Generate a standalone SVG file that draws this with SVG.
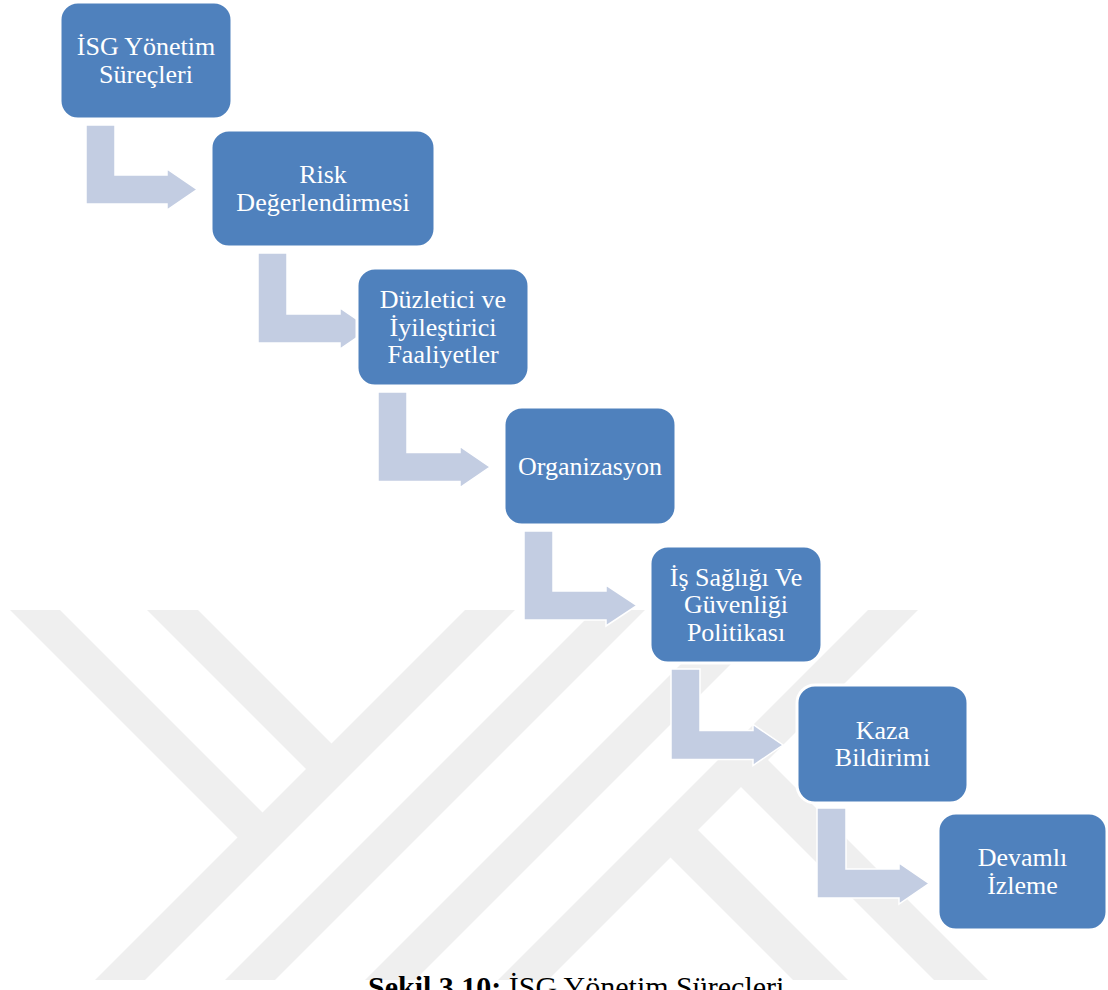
<svg xmlns="http://www.w3.org/2000/svg" width="1108" height="990" viewBox="0 0 1108 990">
  <style>
    .wm { fill: #efefef; }
    .arr { fill: #c3cde2; stroke: #ffffff; stroke-width: 1.5; stroke-linejoin: miter; }
    .box { fill: #4f81bd; stroke: #ffffff; stroke-width: 3; }
    .lbl { font-family: "Liberation Serif", "Times New Roman", serif; font-size: 26px; fill: #ffffff; text-anchor: middle; }
    .cap { font-family: "Liberation Serif", "Times New Roman", serif; font-size: 30px; fill: #000000; }
  </style>
  <rect x="0" y="0" width="1108" height="990" fill="#ffffff"/>

  <g id="watermark">
    <polygon class="wm" points="10,610 60,610 275,825 250,850"/>
    <polygon class="wm" points="147,610 198,610 344,756 318.5,781.5"/>
    <polygon class="wm" points="465,610 515,610 145,980 95,980"/>
    <polygon class="wm" points="595,610 645,610 275,980 225,980"/>
    <polygon class="wm" points="735,610 785,610 415,980 365,980"/>
    <polygon class="wm" points="868,610 918,610 548,980 498,980"/>
    <polygon class="wm" points="685.5,817.5 848,980 793,980 658,845"/>
    <polygon class="wm" points="755.5,747.5 988,980 934,980 728.5,774.5"/>
  </g>

  <g id="connectors">
    <polygon class="arr" points="86,125 115,125 115,175 167,175 167,169 197,189.5 167,210 167,204 86,204"/>
    <polygon class="arr" points="258,253 287,253 287,314 340,314 340,308 370,328.5 340,349 340,343 258,343"/>
    <polygon class="arr" points="378,392 407,392 407,452.5 460,452.5 460,446.5 490,467 460,487.5 460,481.5 378,481.5"/>
    <polygon class="arr" points="524,531 553,531 553,591 606,591 606,585 637,605.5 606,626 606,620 524,620"/>
    <polygon class="arr" points="671,669 700,669 700,730.5 753,730.5 753,724.5 783,745 753,765.5 753,759.5 671,759.5"/>
    <polygon class="arr" points="817,808 846,808 846,869 899,869 899,863 929,883.5 899,904 899,898 817,898"/>
  </g>

  <g id="node1">
    <rect class="box" x="60" y="2" width="172" height="117" rx="18" ry="18"/>
    <text class="lbl" x="146" y="55.4">İSG Yönetim</text>
    <text class="lbl" x="146" y="82.9">Süreçleri</text>
  </g>
  <g id="node2">
    <rect class="box" x="211" y="130" width="224" height="117" rx="18" ry="18"/>
    <text class="lbl" x="323" y="183.4">Risk</text>
    <text class="lbl" x="323" y="210.9">Değerlendirmesi</text>
  </g>
  <g id="node3">
    <rect class="box" x="357" y="268" width="172" height="118" rx="18" ry="18"/>
    <text class="lbl" x="443" y="308.1">Düzletici ve</text>
    <text class="lbl" x="443" y="335.6">İyileştirici</text>
    <text class="lbl" x="443" y="363.1">Faaliyetler</text>
  </g>
  <g id="node4">
    <rect class="box" x="504" y="407" width="172" height="118" rx="18" ry="18"/>
    <text class="lbl" x="590" y="474.6">Organizasyon</text>
  </g>
  <g id="node5">
    <rect class="box" x="650" y="546" width="172" height="117" rx="18" ry="18"/>
    <text class="lbl" x="736" y="585.6">İş Sağlığı Ve</text>
    <text class="lbl" x="736" y="613.1">Güvenliği</text>
    <text class="lbl" x="736" y="640.6">Politikası</text>
  </g>
  <g id="node6">
    <rect class="box" x="797" y="685" width="171" height="118" rx="18" ry="18"/>
    <text class="lbl" x="882.5" y="738.9">Kaza</text>
    <text class="lbl" x="882.5" y="766.4">Bildirimi</text>
  </g>
  <g id="node7">
    <rect class="box" x="938" y="813" width="169" height="117" rx="18" ry="18"/>
    <text class="lbl" x="1022.5" y="866.4">Devamlı</text>
    <text class="lbl" x="1022.5" y="893.9">İzleme</text>
  </g>

  <g id="caption">
    <text class="cap" x="368" y="997"><tspan font-weight="bold">Şekil 3.10:</tspan> İSG Yönetim Süreçleri</text>
  </g>
</svg>
